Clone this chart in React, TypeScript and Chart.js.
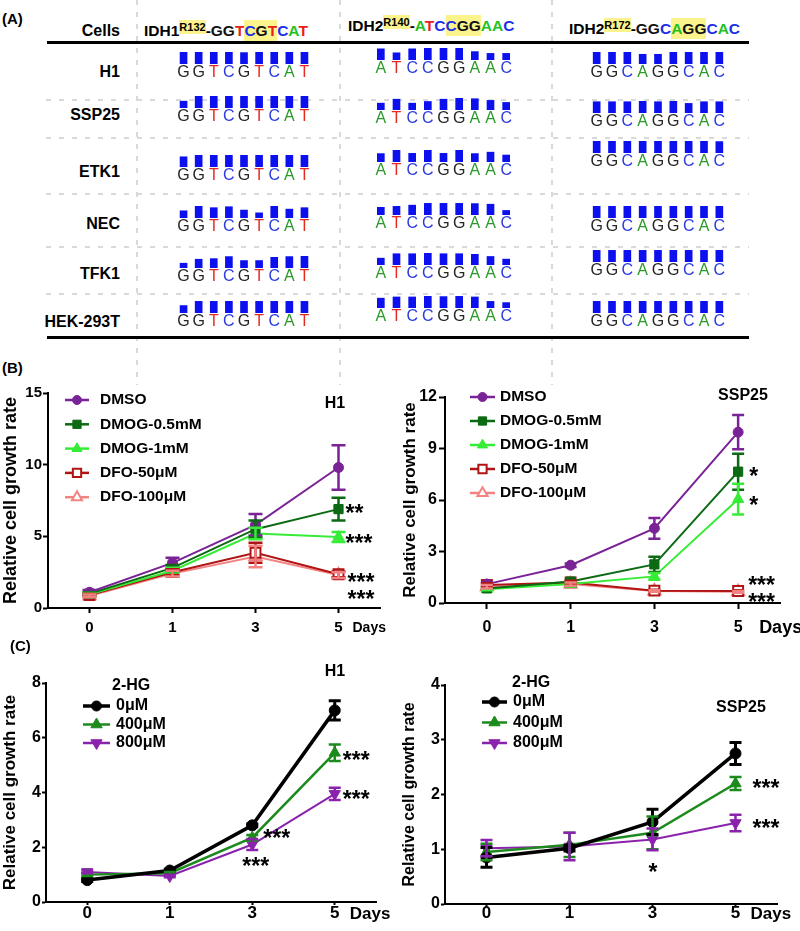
import React, { useEffect, useRef } from 'react';
import { Chart, registerables } from 'chart.js';
Chart.register(...registerables);

const FONT = '"Liberation Sans", Arial, Helvetica, sans-serif';

// ---------------- Panel A data ----------------
const CELL_LINES = ['H1', 'SSP25', 'ETK1', 'NEC', 'TFK1', 'HEK-293T'];
const SEQ_IDH1_R132 = ['G', 'G', 'T', 'C', 'G', 'T', 'C', 'A', 'T'];
const SEQ_IDH2_R140 = ['A', 'T', 'C', 'C', 'G', 'G', 'A', 'A', 'C'];
const SEQ_IDH2_R172 = ['G', 'G', 'C', 'A', 'G', 'G', 'C', 'A', 'C'];
const QUAL_IDH1_R132 = [
  [1, 1, 1, 1, 0.95, 1, 1, 1, 1],
  [0.57, 1, 1, 1, 1, 1, 1, 1, 1],
  [0.85, 1, 1, 1, 1, 1, 1, 1, 1],
  [0.6, 1, 0.86, 0.94, 0.66, 0.43, 1, 0.74, 0.86],
  [0.4, 0.73, 0.78, 0.95, 0.62, 0.62, 0.89, 0.95, 1],
  [0.62, 0.97, 0.97, 1, 0.97, 0.97, 0.97, 0.97, 0.97],
];
const QUAL_IDH2_R140 = [
  [0.93, 0.6, 0.93, 1, 1, 1, 0.7, 0.55, 0.55],
  [0.57, 0.9, 0.57, 0.71, 0.9, 1, 0.94, 0.8, 0.63],
  [0.7, 1, 0.72, 1, 0.72, 1, 0.7, 0.82, 0.58],
  [0.64, 0.72, 0.82, 0.97, 0.97, 0.97, 0.95, 0.9, 0.38],
  [0.57, 0.94, 0.94, 1, 0.94, 0.94, 0.89, 0.71, 0.49],
  [0.82, 0.92, 0.92, 1, 0.95, 0.97, 0.92, 0.55, 0.45],
];
const QUAL_IDH2_R172 = [
  [1, 1, 1, 0.81, 0.81, 1, 1, 1, 1],
  [0.94, 0.94, 0.94, 1, 0.94, 1, 0.8, 0.94, 0.94],
  [1, 1, 1, 1, 1, 1, 1, 1, 0.95],
  [1, 1, 1, 1, 1, 1, 1, 1, 1],
  [0.97, 0.97, 0.97, 0.97, 0.97, 0.97, 0.97, 0.97, 0.97],
  [1, 1, 1, 1, 1, 1, 1, 1, 1],
];

// ---------------- Panel B data ----------------
const DAYS = ['0', '1', '3', '5'];
const B_LABELS = ['DMSO', 'DMOG-0.5mM', 'DMOG-1mM', 'DFO-50\u03bcM', 'DFO-100\u03bcM'];
const B_H1_DMSO = [1.1, 3.15, 5.8, 9.8];
const B_H1_DMSO_ERR = [0.15, 0.35, 0.75, 1.55];
const B_H1_DMOG05 = [1.0, 2.8, 5.5, 6.9];
const B_H1_DMOG05_ERR = [0.1, 0.2, 0.6, 0.8];
const B_H1_DMOG1 = [0.95, 2.6, 5.2, 4.95];
const B_H1_DMOG1_ERR = [0.1, 0.2, 0.4, 0.35];
const B_H1_DFO50 = [0.9, 2.5, 3.85, 2.35];
const B_H1_DFO50_ERR = [0.1, 0.2, 0.7, 0.2];
const B_H1_DFO100 = [0.85, 2.4, 3.6, 2.3];
const B_H1_DFO100_ERR = [0.1, 0.2, 0.75, 0.2];
const B_H1_STAR_TEXT = ['**', '***', '***', '***'];
const B_H1_STAR_VALUE = [7.0, 4.9, 2.2, 1.0];

const B_SSP_DMSO = [1.1, 2.2, 4.35, 9.95];
const B_SSP_DMSO_ERR = [0.1, 0.1, 0.6, 1.0];
const B_SSP_DMOG05 = [0.85, 1.25, 2.25, 7.65];
const B_SSP_DMOG05_ERR = [0.05, 0.05, 0.45, 1.05];
const B_SSP_DMOG1 = [0.8, 1.1, 1.55, 6.05];
const B_SSP_DMOG1_ERR = [0.05, 0.05, 0.2, 0.9];
const B_SSP_DFO50 = [1.05, 1.2, 0.72, 0.7];
const B_SSP_DFO50_ERR = [0.1, 0.1, 0.05, 0.05];
const B_SSP_DFO100 = [0.95, 1.1, 0.7, 0.65];
const B_SSP_DFO100_ERR = [0.1, 0.1, 0.05, 0.05];
const B_SSP_STAR_TEXT = ['*', '*', '***', '***'];
const B_SSP_STAR_VALUE = [7.7, 6.0, 1.34, 0.35];

// ---------------- Panel C data ----------------
const C_LABELS = ['0\u03bcM', '400\u03bcM', '800\u03bcM'];
const C_H1_0 = [0.8, 1.15, 2.8, 7.0];
const C_H1_0_ERR = [0.05, 0.05, 0.05, 0.35];
const C_H1_400 = [1.0, 1.05, 2.35, 5.45];
const C_H1_400_ERR = [0.05, 0.05, 0.1, 0.3];
const C_H1_800 = [1.1, 0.95, 2.1, 3.95];
const C_H1_800_ERR = [0.05, 0.05, 0.2, 0.22];
const C_H1_STAR_TEXT = ['***', '***', '***', '***'];
const C_H1_STAR_DAY = [2, 2, 3, 3];
const C_H1_STAR_VALUE = [2.55, 1.5, 5.37, 3.97];

const C_SSP_0 = [0.85, 1.02, 1.5, 2.75];
const C_SSP_0_ERR = [0.18, 0.05, 0.23, 0.2];
const C_SSP_400 = [0.95, 1.08, 1.3, 2.2];
const C_SSP_400_ERR = [0.15, 0.22, 0.3, 0.12];
const C_SSP_800 = [1.02, 1.05, 1.18, 1.48];
const C_SSP_800_ERR = [0.15, 0.25, 0.2, 0.15];
const C_SSP_STAR_TEXT = ['*', '***', '***'];
const C_SSP_STAR_DAY = [2, 3, 3];
const C_SSP_STAR_VALUE = [0.68, 2.21, 1.48];

// ---------------- styles ----------------
const BASE_COLOR: Record<string, string> = { A: '#2a9a2a', T: '#e52a22', C: '#2b3be0', G: '#262626' };
const HEAD_COLOR: Record<string, string> = { A: '#1fc21f', T: '#e8201a', C: '#1a2ee8', G: '#111111' };
const BAR_BLUE = '#0c10ee';
const HIGHLIGHT = '#fbf38c';

// layout of the sequencing cells (pixel geometry only)
const SEQ_COLS = [
  { seq: SEQ_IDH1_R132, qual: QUAL_IDH1_R132, first: 184, pitch: 15.1, bottoms: [64, 108, 167, 218, 268, 313] },
  { seq: SEQ_IDH2_R140, qual: QUAL_IDH2_R140, first: 381, pitch: 15.7, bottoms: [60, 110, 162, 215, 265, 308] },
  { seq: SEQ_IDH2_R172, qual: QUAL_IDH2_R172, first: 597, pitch: 15.3, bottoms: [64, 113, 153, 218, 262, 313] },
];
const ROW_LABEL_Y = [72, 115, 172, 224, 274, 322];
const ROW_SEP_Y = [99, 137, 193, 246, 293];
const COL_SEP_X = [136, 339, 551];

// ---------------- helpers ----------------
function drawMarker(ctx: CanvasRenderingContext2D, style: string, x: number, y: number, r: number, rotDeg: number, fill: string, stroke: string, bw: number) {
  ctx.save();
  ctx.beginPath();
  if (style === 'circle') {
    ctx.arc(x, y, r, 0, Math.PI * 2);
  } else if (style === 'rect') {
    const s = Math.SQRT1_2 * r;
    ctx.rect(x - s, y - s, 2 * s, 2 * s);
  } else {
    let a = (rotDeg || 0) * Math.PI / 180;
    ctx.moveTo(x + Math.sin(a) * r, y - Math.cos(a) * r);
    a += (2 * Math.PI) / 3;
    ctx.lineTo(x + Math.sin(a) * r, y - Math.cos(a) * r);
    a += (2 * Math.PI) / 3;
    ctx.lineTo(x + Math.sin(a) * r, y - Math.cos(a) * r);
    ctx.closePath();
  }
  ctx.fillStyle = fill;
  ctx.fill();
  ctx.lineWidth = bw;
  ctx.strokeStyle = stroke;
  ctx.stroke();
  ctx.restore();
}

interface Series {
  label: string; values: number[]; errors: number[]; color: string; style: string;
  open?: boolean; rot?: number; lw: number; r: number; elw?: number;
}
interface Star { text: string; day: number; value: number; dx: number }
interface LineSpec {
  series: Series[];
  yMax: number; yStep: number; yWidth: number; xHeight: number;
  pad: { left: number; top: number; right: number };
  yTickSize: number; xTickSize: number; xTickLen: number; xTickPad: number; yTickLen: number; yTickPad: number;
  titleSize: number;
  legend: { header?: string; hx?: number; hy?: number; x1: number; x2: number; tx: number; y0: number; dy: number; size: number; mr: number };
  days: { dx: number; dy: number; size: number };
  stars: Star[]; starSize: number; cap: number;
}

function lineConfig(spec: LineSpec): any {
  const errorBars = {
    id: 'errorBars',
    afterDatasetsDraw(chart: any) {
      const ctx = chart.ctx;
      const ys = chart.scales.y;
      spec.series.forEach((s, di) => {
        const meta = chart.getDatasetMeta(di);
        meta.data.forEach((pt: any, i: number) => {
          const e = s.errors[i];
          if (!e) return;
          const top = ys.getPixelForValue(s.values[i] + e);
          const bot = ys.getPixelForValue(s.values[i] - e);
          ctx.save();
          ctx.strokeStyle = s.color;
          ctx.lineWidth = s.elw || 2.5;
          ctx.beginPath();
          ctx.moveTo(pt.x, top); ctx.lineTo(pt.x, bot);
          ctx.moveTo(pt.x - spec.cap, top); ctx.lineTo(pt.x + spec.cap, top);
          ctx.moveTo(pt.x - spec.cap, bot); ctx.lineTo(pt.x + spec.cap, bot);
          ctx.stroke();
          ctx.restore();
        });
      });
    },
  };
  const annotations = {
    id: 'annotations',
    afterDraw(chart: any) {
      const ctx = chart.ctx;
      const xs = chart.scales.x;
      const ys = chart.scales.y;
      ctx.save();
      ctx.fillStyle = '#000';
      ctx.textAlign = 'left';
      ctx.textBaseline = 'alphabetic';
      ctx.font = `bold ${spec.starSize}px ${FONT}`;
      spec.stars.forEach((st) => {
        const x = xs.getPixelForValue(st.day) + st.dx;
        const y = ys.getPixelForValue(st.value) + spec.starSize * 0.58;
        ctx.fillText(st.text, x, y);
      });
      ctx.font = `bold ${spec.days.size}px ${FONT}`;
      ctx.textBaseline = 'middle';
      ctx.fillText('Days', xs.getPixelForValue(DAYS.length - 1) + spec.days.dx, chart.chartArea.bottom + spec.days.dy);
      const L = spec.legend;
      ctx.font = `bold ${L.size}px ${FONT}`;
      if (L.header) ctx.fillText(L.header, L.hx!, L.hy!);
      spec.series.forEach((s, i) => {
        const y = L.y0 + i * L.dy;
        ctx.strokeStyle = s.color;
        ctx.lineWidth = Math.max(s.lw, 2.5);
        ctx.beginPath();
        ctx.moveTo(L.x1, y); ctx.lineTo(L.x2, y);
        ctx.stroke();
        const rr = s.style === 'circle' ? L.mr : L.mr * 1.3;
        drawMarker(ctx, s.style, (L.x1 + L.x2) / 2, y, rr, s.rot || 0, s.open ? '#fff' : s.color, s.color, s.open ? 2 : 1);
        ctx.fillStyle = '#000';
        ctx.fillText(s.label, L.tx, y);
      });
      ctx.restore();
    },
  };
  return {
    type: 'line',
    data: {
      labels: DAYS,
      datasets: spec.series.map((s) => ({
        label: s.label,
        data: s.values,
        borderColor: s.color,
        backgroundColor: s.color,
        borderWidth: s.lw,
        pointStyle: s.style,
        pointRadius: s.r,
        pointRotation: s.rot || 0,
        pointBackgroundColor: s.open ? '#fff' : s.color,
        pointBorderColor: s.color,
        pointBorderWidth: s.open ? 2 : 1,
        tension: 0,
        fill: false,
      })),
    },
    options: {
      responsive: false,
      animation: false,
      devicePixelRatio: 1,
      layout: { padding: { left: spec.pad.left, top: spec.pad.top, right: spec.pad.right, bottom: 0 } },
      plugins: { legend: { display: false }, tooltip: { enabled: false }, title: { display: false } },
      scales: {
        x: {
          type: 'category',
          offset: true,
          grid: { display: true, drawOnChartArea: false, drawTicks: true, tickLength: spec.xTickLen, tickWidth: 2, color: '#000', offset: false },
          border: { display: true, color: '#000', width: 2 },
          ticks: { color: '#000', font: { family: FONT, size: spec.xTickSize, weight: 'bold', lineHeight: 1 }, padding: spec.xTickPad, maxRotation: 0, autoSkip: false },
          afterFit: (s: any) => { s.height = spec.xHeight; },
        },
        y: {
          min: 0,
          max: spec.yMax,
          grid: { display: true, drawOnChartArea: false, drawTicks: true, tickLength: spec.yTickLen, tickWidth: 2, color: '#000' },
          border: { display: true, color: '#000', width: 2 },
          ticks: { stepSize: spec.yStep, color: '#000', font: { family: FONT, size: spec.yTickSize, weight: 'bold' }, padding: spec.yTickPad },
          title: { display: true, text: 'Relative cell growth rate', color: '#000', font: { family: FONT, size: spec.titleSize, weight: 'bold' }, padding: 0 },
          afterFit: (s: any) => { s.width = spec.yWidth; },
        },
      },
    },
    plugins: [errorBars, annotations],
  };
}

function seqConfig(seq: string[], qual: number[]): any {
  return {
    type: 'bar',
    data: { labels: seq, datasets: [{ data: qual, backgroundColor: BAR_BLUE, barThickness: 7, borderWidth: 0 }] },
    options: {
      responsive: false,
      animation: false,
      devicePixelRatio: 1,
      layout: { padding: 0 },
      plugins: { legend: { display: false }, tooltip: { enabled: false } },
      scales: {
        x: {
          offset: true,
          grid: { display: false, drawTicks: false },
          border: { display: false },
          ticks: {
            color: (c: any) => BASE_COLOR[seq[c.index]] || '#000',
            font: { family: FONT, size: 16, lineHeight: 1 },
            padding: 1,
            autoSkip: false,
            maxRotation: 0,
          },
          afterFit: (s: any) => { s.height = 18; },
        },
        y: { display: false, min: 0, max: 1 },
      },
    },
  };
}

function ChartCanvas({ left, top, width, height, make }: { left: number; top: number; width: number; height: number; make: () => any }) {
  const ref = useRef<HTMLCanvasElement>(null);
  useEffect(() => {
    const chart = new Chart(ref.current as HTMLCanvasElement, make());
    return () => chart.destroy();
  }, []);
  return <canvas ref={ref} width={width} height={height} style={{ position: 'absolute', left, top, width, height }} />;
}

// ---------------- chart specs ----------------
const B_COLORS = ['#7a2396', '#0b6a12', '#36ec36', '#b01414', '#f38383'];
function bSeries(vals: number[][], errs: number[][]): Series[] {
  return [
    { label: B_LABELS[0], values: vals[0], errors: errs[0], color: B_COLORS[0], style: 'circle', lw: 2, r: 5 },
    { label: B_LABELS[1], values: vals[1], errors: errs[1], color: B_COLORS[1], style: 'rect', lw: 2, r: 6.5 },
    { label: B_LABELS[2], values: vals[2], errors: errs[2], color: B_COLORS[2], style: 'triangle', lw: 2, r: 6.5 },
    { label: B_LABELS[3], values: vals[3], errors: errs[3], color: B_COLORS[3], style: 'rect', open: true, lw: 2, r: 7 },
    { label: B_LABELS[4], values: vals[4], errors: errs[4], color: B_COLORS[4], style: 'triangle', open: true, lw: 2, r: 7 },
  ];
}
function cSeries(vals: number[][], errs: number[][]): Series[] {
  return [
    { label: C_LABELS[0], values: vals[0], errors: errs[0], color: '#000000', style: 'circle', lw: 3.5, r: 5.5, elw: 3 },
    { label: C_LABELS[1], values: vals[1], errors: errs[1], color: '#1c8a1c', style: 'triangle', lw: 2.5, r: 6.5, elw: 2.5 },
    { label: C_LABELS[2], values: vals[2], errors: errs[2], color: '#8a22ad', style: 'triangle', rot: 180, lw: 2, r: 6.5, elw: 2.5 },
  ];
}

const makeBLeft = () => lineConfig({
  series: bSeries(
    [B_H1_DMSO, B_H1_DMOG05, B_H1_DMOG1, B_H1_DFO50, B_H1_DFO100],
    [B_H1_DMSO_ERR, B_H1_DMOG05_ERR, B_H1_DMOG1_ERR, B_H1_DFO50_ERR, B_H1_DFO100_ERR]),
  yMax: 15, yStep: 5, yWidth: 48, xHeight: 38, pad: { left: 0, top: 15, right: 20 },
  yTickSize: 15, xTickSize: 15, xTickLen: 5, xTickPad: 7, yTickLen: 5, yTickPad: 1, titleSize: 18,
  legend: { x1: 65, x2: 89, tx: 100, y0: 22, dy: 24.3, size: 15.5, mr: 4.5 },
  days: { dx: 14, dy: 20, size: 14 },
  stars: B_H1_STAR_TEXT.map((t, i) => ({ text: t, day: 3, value: B_H1_STAR_VALUE[i], dx: i < 2 ? 7 : 9 })),
  starSize: 23, cap: 7,
});

const makeBRight = () => lineConfig({
  series: bSeries(
    [B_SSP_DMSO, B_SSP_DMOG05, B_SSP_DMOG1, B_SSP_DFO50, B_SSP_DFO100],
    [B_SSP_DMSO_ERR, B_SSP_DMOG05_ERR, B_SSP_DMOG1_ERR, B_SSP_DFO50_ERR, B_SSP_DFO100_ERR]),
  yMax: 12, yStep: 3, yWidth: 45, xHeight: 43, pad: { left: 0, top: 19, right: 20 },
  yTickSize: 16, xTickSize: 16, xTickLen: 6, xTickPad: 11, yTickLen: 6, yTickPad: 2, titleSize: 17,
  legend: { x1: 70, x2: 95, tx: 100, y0: 19, dy: 24, size: 15.5, mr: 4.5 },
  days: { dx: 21, dy: 25, size: 18 },
  stars: B_SSP_STAR_TEXT.map((t, i) => ({ text: t, day: 3, value: B_SSP_STAR_VALUE[i], dx: i < 2 ? 11 : 10 })),
  starSize: 23, cap: 6,
});

const makeCLeft = () => lineConfig({
  series: cSeries([C_H1_0, C_H1_400, C_H1_800], [C_H1_0_ERR, C_H1_400_ERR, C_H1_800_ERR]),
  yMax: 8, yStep: 2, yWidth: 46, xHeight: 29, pad: { left: 0, top: 23, right: 24 },
  yTickSize: 16, xTickSize: 17, xTickLen: 3, xTickPad: 0, yTickLen: 4, yTickPad: 1, titleSize: 17,
  legend: { header: '2-HG', hx: 112, hy: 26, x1: 83, x2: 110, tx: 116, y0: 46, dy: 18.5, size: 16, mr: 5 },
  days: { dx: 15, dy: 12, size: 17 },
  stars: C_H1_STAR_TEXT.map((t, i) => ({ text: t, day: C_H1_STAR_DAY[i], value: C_H1_STAR_VALUE[i], dx: [11, -10, 8, 8][i] })),
  starSize: 23, cap: 6,
});

const makeCRight = () => lineConfig({
  series: cSeries([C_SSP_0, C_SSP_400, C_SSP_800], [C_SSP_0_ERR, C_SSP_400_ERR, C_SSP_800_ERR]),
  yMax: 4, yStep: 1, yWidth: 45, xHeight: 27, pad: { left: 0, top: 25, right: 23 },
  yTickSize: 16, xTickSize: 17, xTickLen: 3, xTickPad: -2, yTickLen: 4, yTickPad: 1, titleSize: 16,
  legend: { header: '2-HG', hx: 112, hy: 23, x1: 82, x2: 107, tx: 113, y0: 42, dy: 20.5, size: 16, mr: 5 },
  days: { dx: 15, dy: 10, size: 17 },
  stars: C_SSP_STAR_TEXT.map((t, i) => ({ text: t, day: C_SSP_STAR_DAY[i], value: C_SSP_STAR_VALUE[i], dx: [-4, 17, 17][i] })),
  starSize: 23, cap: 6,
});

// ---------------- HTML pieces ----------------
function Header({ gene, site, seq, left, cy }: { gene: string; site: string; seq: string[]; left: number; cy: number }) {
  return (
    <div style={{ position: 'absolute', left, top: cy - 10, height: 20, lineHeight: '20px', fontSize: 15.5, fontWeight: 'bold', whiteSpace: 'nowrap', fontFamily: FONT }}>
      <span>{gene}</span>
      <span style={{ fontSize: 11, background: HIGHLIGHT, position: 'relative', top: -5, padding: '1px 0' }}>{site}</span>
      <span>-</span>
      {seq.map((b, i) => (
        <span key={i} style={{ color: HEAD_COLOR[b], background: i >= 3 && i <= 5 ? HIGHLIGHT : 'transparent', padding: '2px 0' }}>{b}</span>
      ))}
    </div>
  );
}

function Text({ x, y, children, size = 16, align = 'left', bold = true }: any) {
  const tx = align === 'center' ? '-50%' : align === 'right' ? '-100%' : '0';
  return (
    <div style={{ position: 'absolute', left: x, top: y, transform: `translate(${tx}, -50%)`, fontSize: size, fontWeight: bold ? 'bold' : 'normal', lineHeight: 1, whiteSpace: 'nowrap', fontFamily: FONT }}>
      {children}
    </div>
  );
}

const dashH = 'repeating-linear-gradient(to right, #d9d9d9 0 5px, transparent 5px 13px)';
const dashV = 'repeating-linear-gradient(to bottom, #d9d9d9 0 5px, transparent 5px 12px)';

export default function App() {
  return (
    <div style={{ position: 'absolute', left: 0, top: 0, width: 800, height: 931, background: '#fff', overflow: 'hidden', fontFamily: FONT, color: '#000' }}>
      {COL_SEP_X.map((x, i) => (
        <div key={'v' + i} style={{ position: 'absolute', left: x, top: 0, width: 2, height: 385, background: dashV }} />
      ))}
      {ROW_SEP_Y.map((y, i) => (
        <div key={'h' + i} style={{ position: 'absolute', left: 46, top: y, width: 703, height: 2, background: dashH }} />
      ))}
      <div style={{ position: 'absolute', left: 47, top: 41, width: 702, height: 3, background: '#000' }} />
      <div style={{ position: 'absolute', left: 47, top: 336, width: 702, height: 3, background: '#000' }} />

      <Text x={2} y={18} size={15}>(A)</Text>
      <Text x={120} y={31} align="right">Cells</Text>
      <Header gene="IDH1" site="R132" seq={SEQ_IDH1_R132} left={144} cy={31} />
      <Header gene="IDH2" site="R140" seq={SEQ_IDH2_R140} left={348} cy={26} />
      <Header gene="IDH2" site="R172" seq={SEQ_IDH2_R172} left={569} cy={29} />
      {CELL_LINES.map((c, i) => (
        <Text key={c} x={120} y={ROW_LABEL_Y[i]} align="right">{c}</Text>
      ))}
      {SEQ_COLS.map((col, ci) =>
        CELL_LINES.map((c, ri) => (
          <ChartCanvas
            key={ci + '-' + ri}
            left={Math.round(col.first - col.pitch / 2)}
            top={col.bottoms[ri] - 12}
            width={Math.round(col.pitch * 9)}
            height={30}
            make={() => seqConfig(col.seq, col.qual[ri])}
          />
        ))
      )}

      <Text x={2} y={367} size={15}>(B)</Text>
      <ChartCanvas left={0} top={378} width={400} height={268} make={makeBLeft} />
      <ChartCanvas left={400} top={378} width={400} height={268} make={makeBRight} />
      <Text x={335} y={403} align="center">H1</Text>
      <Text x={743} y={395} align="center">SSP25</Text>

      <Text x={10} y={645} size={15}>(C)</Text>
      <ChartCanvas left={0} top={660} width={400} height={271} make={makeCLeft} />
      <ChartCanvas left={400} top={660} width={400} height={271} make={makeCRight} />
      <Text x={335} y={671} align="center">H1</Text>
      <Text x={741} y={707} align="center">SSP25</Text>
    </div>
  );
}
